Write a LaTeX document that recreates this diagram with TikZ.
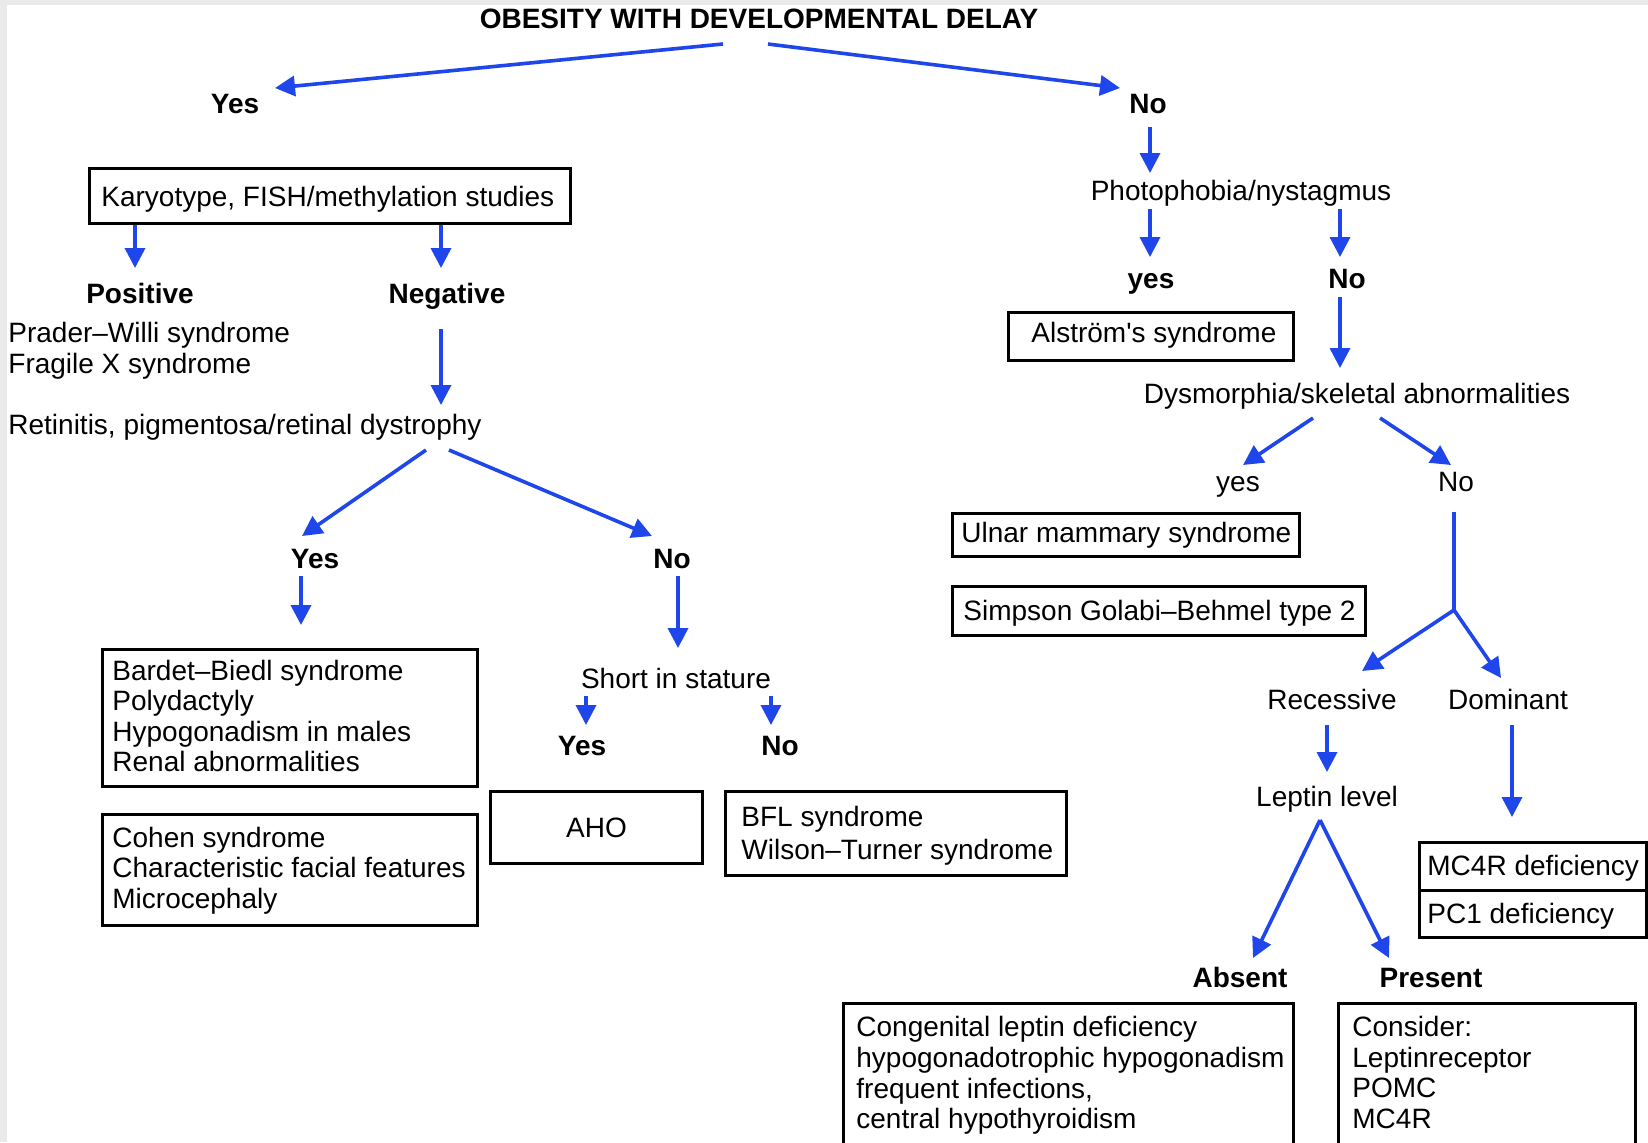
\documentclass[tikz,border=0pt]{standalone}
\usepackage{fontspec}
\setmainfont{Liberation Sans}
\usetikzlibrary{arrows.meta,calc}
\definecolor{arrowblue}{RGB}{30,70,235}
\definecolor{edgegray}{RGB}{234,234,234}
\begin{document}
\begin{tikzpicture}[x=0.5pt,y=-0.5pt,
  txt/.style={inner sep=0pt, font=\fontsize{14pt}{15.25pt}\selectfont},
  lbl/.style={inner sep=0pt, font=\fontsize{14pt}{15.25pt}\selectfont\bfseries},
  box/.style={draw, line width=1.5pt, inner sep=0pt, anchor=north west, font=\fontsize{14pt}{15.25pt}\selectfont},
  arr/.style={draw=arrowblue, line width=1.8pt, -{Triangle[length=10pt,width=10pt]}},
  ln/.style={draw=arrowblue, line width=1.8pt}]
\useasboundingbox (0,0) rectangle (1648,1142);
\fill[edgegray] (0,0) rectangle (1648,1142);
\fill[white] (7,5) rectangle (1648,1142);
\clip (0,0) rectangle (1648,1142);

% ---------- labels ----------
\node[lbl, anchor=base] (title) at (759,28) {OBESITY WITH DEVELOPMENTAL DELAY};
\node[lbl, anchor=base] (yes1) at (235,113) {Yes};
\node[lbl, anchor=base] (no1) at (1148,113) {No};

% left branch
\node[box, minimum width=240.5pt, minimum height=27.5pt] (kbox) at (88,167) {};
\node[txt, anchor=base west] (ktxt) at ($(kbox.north west)+(13,39)$) {Karyotype, FISH/methylation studies};
\node[lbl, anchor=base] (pos) at (140,303) {Positive};
\node[lbl, anchor=base] (neg) at (447,303) {Negative};
\node[txt, anchor=base west] (pw) at (8,342) {Prader–Willi syndrome};
\node[txt, anchor=base west] (fx) at (8,373) {Fragile X syndrome};
\node[txt, anchor=base west] (ret) at (8,434) {Retinitis, pigmentosa/retinal dystrophy};
\node[lbl, anchor=base] (yes2) at (315,568) {Yes};
\node[lbl, anchor=base] (no2) at (672,568) {No};

\node[box, minimum width=187.5pt, minimum height=68.5pt] (bbox) at (101,648) {};
\node[txt, anchor=west, align=left] (btxt) at ($(bbox.west)+(11,-2)$)
  {Bardet–Biedl syndrome\\Polydactyly\\Hypogonadism in males\\Renal abnormalities};
\node[box, minimum width=187.5pt, minimum height=55.5pt] (cbox) at (101,813) {};
\node[txt, anchor=west, align=left] (ctxt) at ($(cbox.west)+(11,0.5)$)
  {Cohen syndrome\\Characteristic facial features\\Microcephaly};

\node[txt, anchor=base] (short) at (676,688) {Short in stature};
\node[lbl, anchor=base] (yes3) at (582,755) {Yes};
\node[lbl, anchor=base] (no3) at (780,755) {No};
\node[box, minimum width=106pt, minimum height=36pt] (aho) at (489,790) {AHO};
\node[box, minimum width=170.5pt, minimum height=42pt] (bfl) at (724,790) {};
\node[txt, anchor=west, align=left, font=\fontsize{14pt}{16.5pt}\selectfont] (bfltxt) at ($(bfl.west)+(17,2)$)
  {BFL syndrome\\Wilson–Turner syndrome};

% right branch
\node[txt, anchor=base] (photo) at (1241,200) {Photophobia/nystagmus};
\node[lbl, anchor=base] (yes4) at (1151,288) {yes};
\node[lbl, anchor=base] (no4) at (1347,288) {No};
\node[box, minimum width=142.5pt, minimum height=24pt] (alst) at (1007,311) {};
\node[txt, anchor=base west] (alsttxt) at ($(alst.north west)+(24,31)$) {Alström\textquotesingle s syndrome};
\node[txt, anchor=base] (dys) at (1357,403) {Dysmorphia/skeletal abnormalities};
\node[txt, anchor=base] (yes5) at (1238,491) {yes};
\node[txt, anchor=base] (no5) at (1456,491) {No};
\node[box, minimum width=173.5pt, minimum height=21.5pt] (uln) at (951,512) {};
\node[txt, anchor=base west] (ulntxt) at ($(uln.north west)+(10,30)$) {Ulnar mammary syndrome};
\node[box, minimum width=206.5pt, minimum height=24.5pt] (simp) at (951,585) {};
\node[txt, anchor=base west] (simptxt) at ($(simp.north west)+(12,35)$) {Simpson Golabi–Behmel type 2};
\coordinate (split) at (1454,610);
\node[txt, anchor=base] (rec) at (1332,709) {Recessive};
\node[txt, anchor=base] (dom) at (1508,709) {Dominant};
\node[txt, anchor=base] (lep) at (1327,806) {Leptin level};
\node[box, minimum width=113.5pt, minimum height=24pt] (mc4) at (1418,841) {};
\node[txt, anchor=base west] (mc4txt) at ($(mc4.north west)+(9,34)$) {MC4R deficiency};
\node[box, minimum width=113.5pt, minimum height=23.5pt] (pc1) at (1418,889) {};
\node[txt, anchor=base west] (pc1txt) at ($(pc1.north west)+(9,34)$) {PC1 deficiency};
\node[lbl, anchor=base] (absent) at (1240,987) {Absent};
\node[lbl, anchor=base] (present) at (1431,987) {Present};
\node[box, minimum width=225pt, minimum height=71pt] (cong) at (842,1002) {};
\node[txt, anchor=west, align=left, font=\fontsize{14pt}{15.35pt}\selectfont] (congtxt) at ($(cong.west)+(14,1)$)
  {Congenital leptin deficiency\\hypogonadotrophic hypogonadism\\frequent infections,\\central hypothyroidism};
\node[box, minimum width=148.5pt, minimum height=71pt] (cons) at (1337,1002) {};
\node[txt, anchor=west, align=left, font=\fontsize{14pt}{15.35pt}\selectfont] (constxt) at ($(cons.west)+(15,-2)$)
  {Consider:\\Leptinreceptor\\POMC\\MC4R};

% ---------- connectors ----------
\draw[arr] ($(title.base)+(-36,16)$) -- ($(yes1.base)+(40,-25)$);
\draw[arr] ($(title.base)+(9,16)$) -- ($(no1.base)+(-28,-25)$);
\draw[arr] ($(kbox.south west)+(47,0)$) -- ($(pos.base)+(-5,-35)$);
\draw[arr] ($(kbox.south west)+(353,0)$) -- ($(neg.base)+(-6,-35)$);
\draw[arr] ($(neg.base)+(-6,26)$) -- ($(ret.base west)+(433,-29)$);
\draw[arr] ($(ret.base west)+(418,16)$) -- ($(yes2.base)+(-13,-32)$);
\draw[arr] ($(ret.base west)+(441,16)$) -- ($(no2.base)+(-20,-32)$);
\draw[arr] ($(yes2.base)+(-14,8)$) -- ($(bbox.north west)+(200,-23)$);
\draw[arr] ($(no2.base)+(6,8)$) -- ($(short.base)+(2,-40)$);
\draw[arr] ($(short.base)+(-90,8)$) -- ($(yes3.base)+(4,-30)$);
\draw[arr] ($(short.base)+(95,8)$) -- ($(no3.base)+(-9,-30)$);

\draw[arr] ($(no1.base)+(2,14)$) -- ($(photo.base)+(-91,-27)$);
\draw[arr] ($(photo.base)+(-91,9)$) -- ($(yes4.base)+(-1,-31)$);
\draw[arr] ($(photo.base)+(99,9)$) -- ($(no4.base)+(-7,-31)$);
\draw[arr] ($(no4.base)+(-7,9)$) -- ($(dys.base)+(-17,-35)$);
\draw[arr] ($(dys.base)+(-44,15)$) -- ($(yes5.base)+(5,-26)$);
\draw[arr] ($(dys.base)+(23,15)$) -- ($(no5.base)+(-5,-26)$);
\draw[ln] ($(no5.base)+(-2,21)$) -- (split);
\draw[arr] (split) -- ($(rec.base)+(30,-38)$);
\draw[arr] (split) -- ($(dom.base)+(-7,-31)$);
\draw[arr] ($(rec.base)+(-5,16)$) -- ($(lep.base)+(0,-34)$);
\draw[arr] ($(dom.base)+(4,16)$) -- ($(mc4.north west)+(94,-24)$);
\draw[arr] ($(lep.base)+(-7,14)$) -- ($(absent.base)+(13,-29)$);
\draw[arr] ($(lep.base)+(-7,14)$) -- ($(present.base)+(-42,-29)$);
\end{tikzpicture}
\end{document}
